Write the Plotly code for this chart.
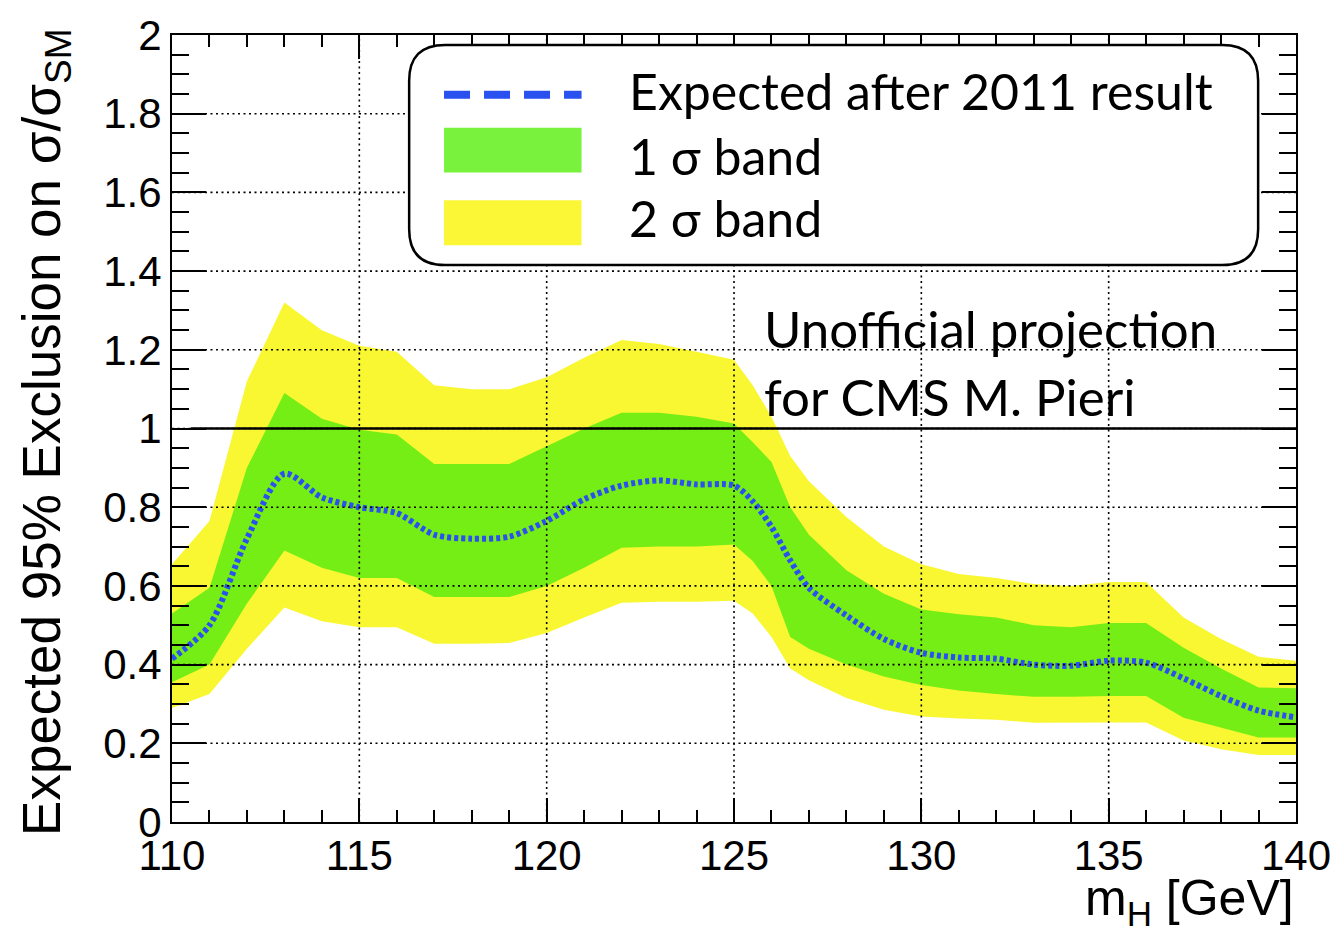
import plotly.graph_objects as go

# Higgs mass points (GeV)
mass = [110, 111, 112, 113, 114, 115, 116, 117, 118, 119, 120, 121, 122, 123, 124, 125,
        125.5, 126, 126.5, 127, 128, 129, 130, 131, 132, 133, 134, 135, 136, 137, 138, 139, 140]

# Expected 95% CL limit on sigma/sigma_SM (median)
expected = [0.415, 0.50, 0.72, 0.885, 0.825, 0.80, 0.785, 0.73, 0.72, 0.725, 0.765, 0.82, 0.855,
            0.868, 0.858, 0.855, 0.815, 0.75, 0.665, 0.595, 0.525, 0.465, 0.43, 0.418, 0.415,
            0.40, 0.397, 0.41, 0.405, 0.365, 0.32, 0.283, 0.266]

# +/- 1 sigma band
band1_up = [0.53, 0.595, 0.90, 1.09, 1.025, 0.997, 0.985, 0.91, 0.91, 0.91, 0.955, 1.0, 1.04,
            1.04, 1.03, 1.013, 0.965, 0.915, 0.80, 0.73, 0.64, 0.58, 0.54, 0.528, 0.52, 0.50,
            0.495, 0.506, 0.506, 0.443, 0.39, 0.342, 0.34]
band1_lo = [0.355, 0.40, 0.555, 0.69, 0.646, 0.62, 0.62, 0.572, 0.572, 0.572, 0.60, 0.646, 0.697,
            0.70, 0.70, 0.705, 0.663, 0.60, 0.47, 0.44, 0.40, 0.37, 0.348, 0.334, 0.325, 0.318,
            0.318, 0.32, 0.32, 0.265, 0.24, 0.215, 0.215]

# +/- 2 sigma band
band2_up = [0.655, 0.765, 1.12, 1.32, 1.25, 1.21, 1.195, 1.11, 1.10, 1.10, 1.13, 1.18, 1.225,
            1.215, 1.195, 1.175, 1.11, 1.03, 0.93, 0.866, 0.775, 0.70, 0.655, 0.63, 0.62, 0.605,
            0.60, 0.61, 0.61, 0.52, 0.465, 0.42, 0.41]
band2_lo = [0.29, 0.325, 0.44, 0.545, 0.51, 0.495, 0.495, 0.453, 0.453, 0.455, 0.48, 0.52, 0.557,
            0.56, 0.56, 0.562, 0.53, 0.47, 0.39, 0.36, 0.315, 0.285, 0.268, 0.263, 0.26, 0.252,
            0.252, 0.253, 0.253, 0.207, 0.185, 0.17, 0.17]

x_grid = [115, 120, 125, 130, 135]
y_grid = [0.2, 0.4, 0.6, 0.8, 1.0, 1.2, 1.4, 1.6, 1.8]
sm_line = 1.0

YELLOW = "#f9f632"
GREEN = "#74ee15"
BLUE = "#2b50f0"
TICK_FONT = "Liberation Sans, Arial, sans-serif"
TEXT_FONT = "Lato, Open Sans, sans-serif"

fig = go.Figure()

fig.add_trace(go.Scatter(
    x=mass + mass[::-1], y=band2_up + band2_lo[::-1],
    fill="toself", fillcolor=YELLOW, line=dict(width=0), mode="lines",
    hoverinfo="skip", showlegend=False))
fig.add_trace(go.Scatter(
    x=mass + mass[::-1], y=band1_up + band1_lo[::-1],
    fill="toself", fillcolor=GREEN, line=dict(width=0), mode="lines",
    hoverinfo="skip", showlegend=False))
fig.add_trace(go.Scatter(
    x=mass, y=expected, mode="lines",
    line=dict(color=BLUE, width=6, dash="4px,3px", shape="spline", smoothing=0.8),
    showlegend=False))

shapes = []
# dotted grid drawn over the bands
for gx in x_grid:
    shapes.append(dict(type="line", xref="x", yref="paper", x0=gx, x1=gx, y0=0, y1=1,
                       line=dict(color="black", width=1.6, dash="2px,3.5px"), layer="above"))
for gy in y_grid:
    shapes.append(dict(type="line", xref="paper", yref="y", x0=0, x1=1, y0=gy, y1=gy,
                       line=dict(color="black", width=1.6, dash="2px,3.5px"), layer="above"))
# SM reference line
shapes.append(dict(type="line", xref="x", yref="y", x0=110.5, x1=140.1, y0=sm_line, y1=sm_line,
                   line=dict(color="black", width=2.4), layer="above"))

# legend box with rounded corners (paper coordinates)
W, H = 1128.0, 790.0
def px(xp):
    return (xp - 172) / W
def py(yp):
    return (822 - yp) / H

x0, x1, y0, y1, r = 410, 1262, 42, 263, 36
path = (f"M {px(x0 + r)},{py(y0)} L {px(x1 - r)},{py(y0)} "
        f"Q {px(x1)},{py(y0)} {px(x1)},{py(y0 + r)} "
        f"L {px(x1)},{py(y1 - r)} Q {px(x1)},{py(y1)} {px(x1 - r)},{py(y1)} "
        f"L {px(x0 + r)},{py(y1)} Q {px(x0)},{py(y1)} {px(x0)},{py(y1 - r)} "
        f"L {px(x0)},{py(y0 + r)} Q {px(x0)},{py(y0)} {px(x0 + r)},{py(y0)} Z")
shapes.append(dict(type="path", xref="paper", yref="paper", path=path,
                   fillcolor="white", line=dict(color="black", width=2.5), layer="above"))
shapes.append(dict(type="line", xref="paper", yref="paper", x0=px(445), x1=px(583),
                   y0=py(92), y1=py(92), line=dict(color=BLUE, width=8, dash="26px,14px"),
                   layer="above"))
shapes.append(dict(type="rect", xref="paper", yref="paper", x0=px(445), x1=px(583),
                   y0=py(170), y1=py(125), fillcolor="#78f23c", line=dict(width=0),
                   layer="above"))
shapes.append(dict(type="rect", xref="paper", yref="paper", x0=px(445), x1=px(583),
                   y0=py(243), y1=py(198), fillcolor="#fbf736", line=dict(width=0),
                   layer="above"))

annotations = []
for label, yc in [("Expected after 2011 result", 88), ("1 σ band", 153), ("2 σ band", 216)]:
    annotations.append(dict(xref="paper", yref="paper", x=px(629), y=py(yc),
                            xanchor="left", yanchor="middle", showarrow=False, text=label,
                            font=dict(family=TEXT_FONT, size=50, color="black")))
for label, yc in [("Unofficial projection", 327), ("for CMS M. Pieri", 395)]:
    annotations.append(dict(xref="paper", yref="paper", x=px(764), y=py(yc),
                            xanchor="left", yanchor="middle", showarrow=False, text=label,
                            font=dict(family=TEXT_FONT, size=51, color="black")))
# axis titles
annotations.append(dict(xref="paper", yref="paper", x=px(45), y=py(430),
                        xanchor="center", yanchor="middle", textangle=-90, showarrow=False,
                        text="Expected 95% Exclusion on σ/σ<sub>SM</sub>",
                        font=dict(family=TICK_FONT, size=53, color="black")))
annotations.append(dict(xref="paper", yref="paper", x=1.0, y=py(902),
                        xanchor="right", yanchor="middle", showarrow=False,
                        text="m<sub>H</sub> [GeV]",
                        font=dict(family=TICK_FONT, size=50, color="black")))

fig.update_layout(
    width=1343, height=931,
    margin=dict(l=172, r=43, t=32, b=109),
    paper_bgcolor="white", plot_bgcolor="white",
    shapes=shapes, annotations=annotations,
    showlegend=False,
)
fig.update_xaxes(
    range=[110, 140], tickmode="array", tickvals=[110, 115, 120, 125, 130, 135, 140],
    ticks="inside", ticklen=24, tickwidth=2, tickcolor="black", ticklabelstandoff=-4,
    minor=dict(ticks="inside", ticklen=12, tickwidth=2, dtick=1, tickcolor="black", showgrid=False),
    showline=True, linecolor="black", linewidth=2, mirror="ticks",
    showgrid=False, zeroline=False,
    tickfont=dict(family=TICK_FONT, size=42, color="black"),
)
fig.update_yaxes(
    range=[0, 2], tickmode="array", tickvals=[0, 0.2, 0.4, 0.6, 0.8, 1, 1.2, 1.4, 1.6, 1.8, 2],
    ticktext=["0", "0.2", "0.4", "0.6", "0.8", "1", "1.2", "1.4", "1.6", "1.8", "2"],
    ticks="inside", ticklen=34, tickwidth=2, tickcolor="black",
    minor=dict(ticks="inside", ticklen=17, tickwidth=2, dtick=0.05, tickcolor="black", showgrid=False),
    showline=True, linecolor="black", linewidth=2, mirror="ticks",
    showgrid=False, zeroline=False,
    tickfont=dict(family=TICK_FONT, size=42, color="black"),
)

fig.write_html("out.html")
